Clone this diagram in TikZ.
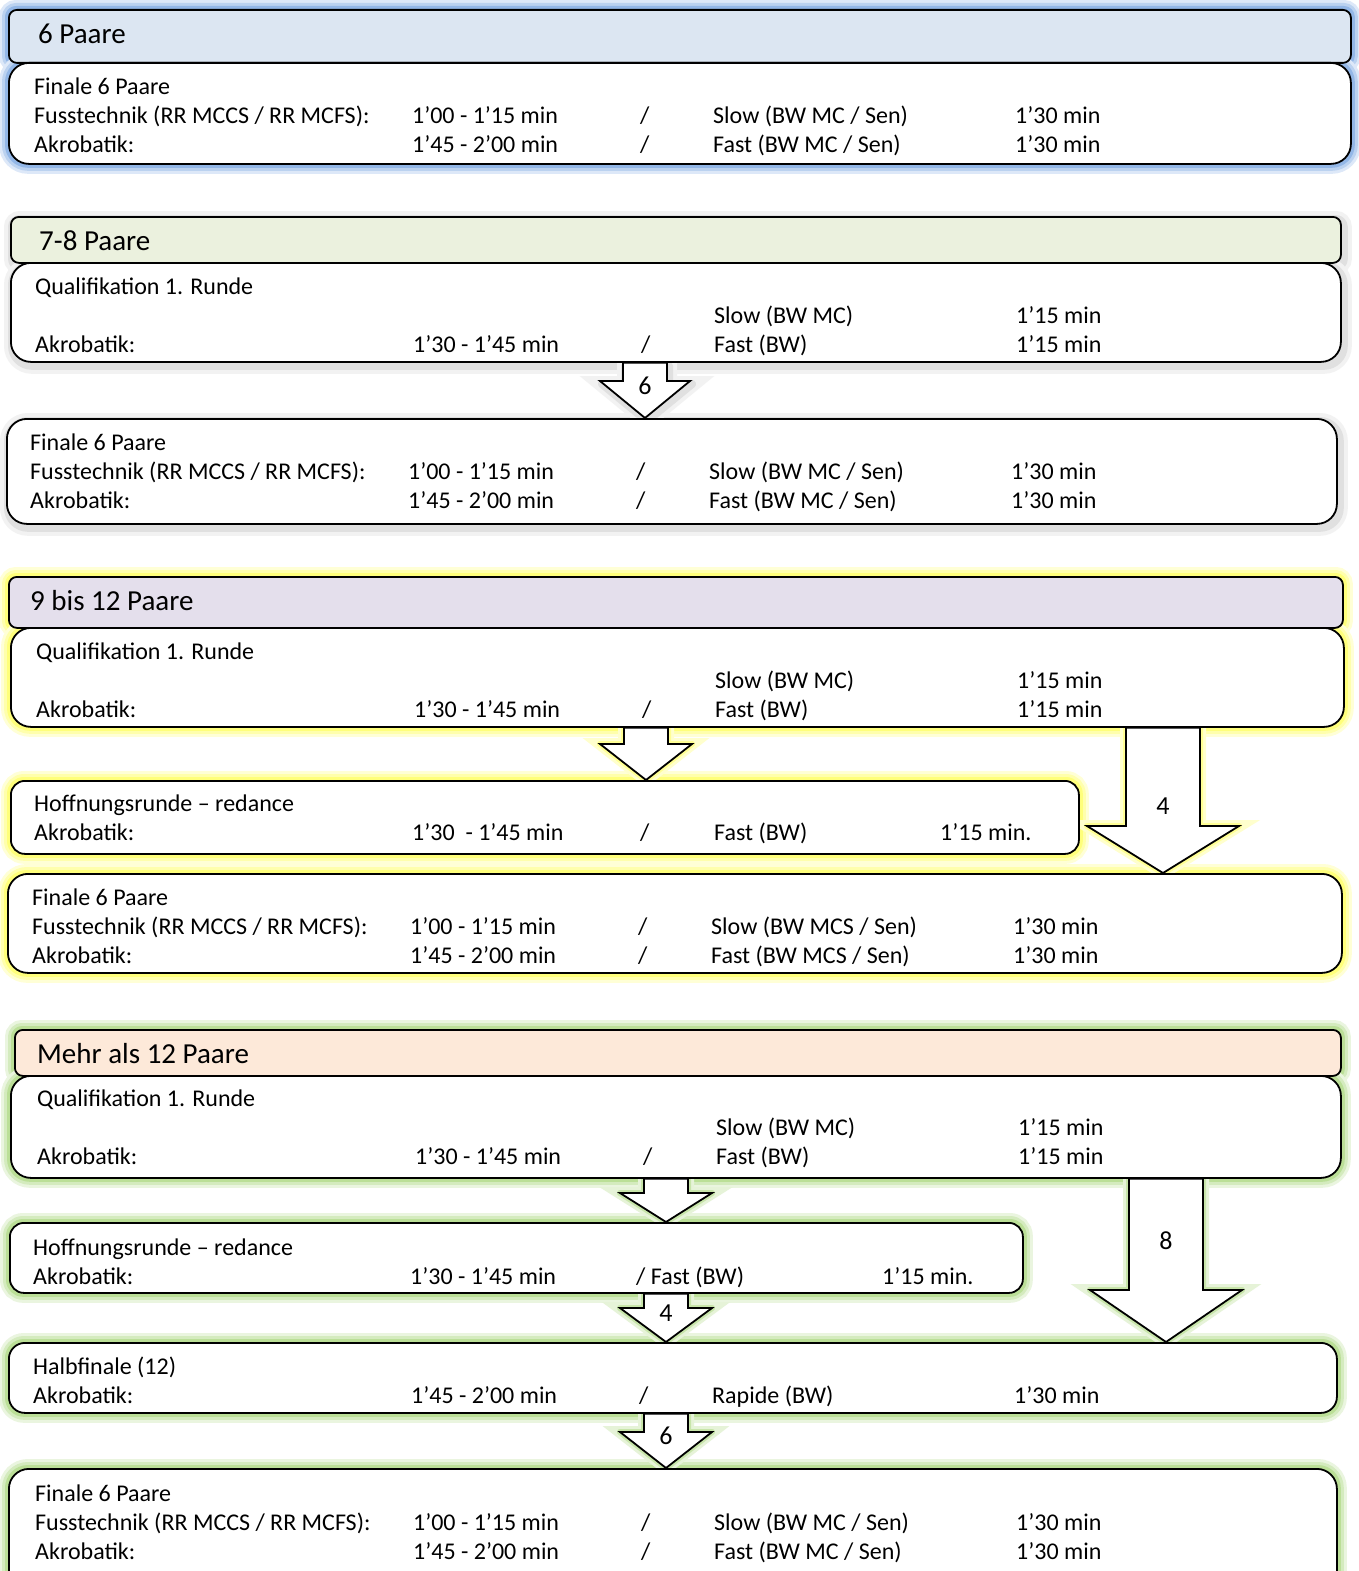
\documentclass[tikz,border=0pt]{standalone}
\usepackage{fontspec}
\setmainfont{Carlito}
\usetikzlibrary{positioning}
\usetikzlibrary{calc}

\pgfdeclarelayer{background}
\pgfsetlayers{background,main}

\definecolor{headblue}{RGB}{220,230,242}
\definecolor{headgreen}{RGB}{235,241,222}
\definecolor{headlila}{RGB}{228,223,236}
\definecolor{headpeach}{RGB}{253,233,217}
\definecolor{glowblue}{RGB}{120,165,225}
\definecolor{glowyellow}{RGB}{255,255,90}
\definecolor{glowgreen}{RGB}{170,215,125}

\newcommand{\tcell}[2]{\makebox[#1pt][l]{#2}}
\newcommand{\trow}[5]{\tcell{378}{#1}\tcell{228}{#2}\tcell{73}{#3}\tcell{302}{#4}#5}
\newcommand{\blockarrow}[5]{($(#1)+(-#3,0)$) -- ($(#2)+(-#3,-#5)$) -- ($(#2)+(-#4,-#5)$) -- (#2) -- ($(#2)+(#4,-#5)$) -- ($(#2)+(#3,-#5)$) -- ($(#1)+(#3,0)$) -- cycle}

\begin{document}
\begin{tikzpicture}[x=1pt, y=-1pt,
        head/.style={draw, line width=1.8pt, rounded corners=8pt, anchor=north west, inner sep=0pt},
        body/.style={draw, fill=white, line width=1.8pt, rounded corners=20pt, anchor=north west, inner sep=0pt},
        txt/.style={anchor=north west, inner sep=0pt, align=left, font=\fontsize{24}{29}\selectfont},
        htxt/.style={anchor=base west, inner sep=0pt, font=\fontsize{29}{35}\selectfont},
        lbl/.style={inner sep=0pt, font=\fontsize{26}{31}\selectfont},
        blockarr/.style={draw, fill=white, line width=1.8pt, line join=miter},
        glowline/.style={line join=round, preaction={draw=#1!25, line width=18pt}, preaction={draw=#1!50, line width=12pt}, draw=#1!80, line width=6pt},
        arrowglow/.style={line join=round, preaction={draw=#1!30, line width=12pt}, draw=#1!65, line width=6pt},
        greyshadow/.style={line join=round, preaction={draw=black!5, line width=16pt}, draw=black!12, line width=8pt}]

    \useasboundingbox (0,0) rectangle (1359,1571);

    % 6 Paare
    \node[head, fill=headblue, minimum width=1342pt, minimum height=53pt] (h1) at (8,9) {};
    \node[htxt] (h1t) at (38,44) {6 Paare};
    \node[body, minimum width=1342pt, minimum height=101pt] (b1) at (8,62) {};
    \node[txt] (b1t) at (34,73.7) {\strut Finale 6 Paare\\
        \trow{Fusstechnik (RR MCCS / RR MCFS):}{1’00 - 1’15 min}{/}{Slow (BW MC / Sen)}{1’30 min}\\
        \trow{Akrobatik:}{1’45 - 2’00 min}{/}{Fast (BW MC / Sen)}{1’30 min}};

    % 7-8 Paare
    \node[head, fill=headgreen, minimum width=1330pt, minimum height=46pt] (h2) at (10,216) {};
    \node[htxt] (h2t) at (39,250) {7-8 Paare};
    \node[body, minimum width=1330pt, minimum height=99pt] (q2) at (10,262) {};
    \node[txt] (q2t) at (35,273.7) {\strut Qualifikation 1. Runde\\
        \trow{}{}{}{Slow (BW MC)}{1’15 min}\\
        \trow{Akrobatik:}{1’30 - 1’45 min}{/}{Fast (BW)}{1’15 min}};
    \node[body, minimum width=1330pt, minimum height=105pt] (f2) at (6,418) {};
    \node[txt] (f2t) at (30,429.7) {\strut Finale 6 Paare\\
        \trow{Fusstechnik (RR MCCS / RR MCFS):}{1’00 - 1’15 min}{/}{Slow (BW MC / Sen)}{1’30 min}\\
        \trow{Akrobatik:}{1’45 - 2’00 min}{/}{Fast (BW MC / Sen)}{1’30 min}};

    % 9 bis 12 Paare
    \node[head, fill=headlila, minimum width=1334pt, minimum height=51pt] (h3) at (8,576) {};
    \node[htxt] (h3t) at (30,610) {9 bis 12 Paare};
    \node[body, minimum width=1333pt, minimum height=99pt] (q3) at (10,627) {};
    \node[txt] (q3t) at (36,638.7) {\strut Qualifikation 1. Runde\\
        \trow{}{}{}{Slow (BW MC)}{1’15 min}\\
        \trow{Akrobatik:}{1’30 - 1’45 min}{/}{Fast (BW)}{1’15 min}};
    \node[body, rounded corners=14pt, minimum width=1068pt, minimum height=73pt] (o3) at (10,780) {};
    \node[txt] (o3t) at (34,790.7) {\strut Hoffnungsrunde – redance\\
        \tcell{378}{Akrobatik:}\tcell{228}{1’30~ - 1’45 min}\tcell{74}{/}\tcell{226}{Fast (BW)}1’15 min.};
    \node[body, minimum width=1334pt, minimum height=99pt] (f3) at (7,873) {};
    \node[txt] (f3t) at (32,884.7) {\strut Finale 6 Paare\\
        \trow{Fusstechnik (RR MCCS / RR MCFS):}{1’00 - 1’15 min}{/}{Slow (BW MCS / Sen)}{1’30 min}\\
        \trow{Akrobatik:}{1’45 - 2’00 min}{/}{Fast (BW MCS / Sen)}{1’30 min}};

    % Mehr als 12 Paare
    \node[head, fill=headpeach, minimum width=1326pt, minimum height=46pt] (h4) at (14,1029) {};
    \node[htxt] (h4t) at (37,1063) {Mehr als 12 Paare};
    \node[body, minimum width=1330pt, minimum height=102pt] (q4) at (10,1075) {};
    \node[txt] (q4t) at (37,1085.7) {\strut Qualifikation 1. Runde\\
        \trow{}{}{}{Slow (BW MC)}{1’15 min}\\
        \trow{Akrobatik:}{1’30 - 1’45 min}{/}{Fast (BW)}{1’15 min}};
    \node[body, rounded corners=14pt, minimum width=1013pt, minimum height=70pt] (o4) at (9,1222) {};
    \node[txt] (o4t) at (33,1234.7) {\strut Hoffnungsrunde – redance\\
        \tcell{377}{Akrobatik:}\tcell{226}{1’30 - 1’45 min}\tcell{246}{/ Fast (BW)}1’15 min.};
    \node[body, rounded corners=16pt, minimum width=1328pt, minimum height=70pt] (l4) at (8,1342) {};
    \node[txt] (l4t) at (33,1353.7) {\strut Halbfinale (12)\\
        \trow{Akrobatik:}{1’45 - 2’00 min}{/}{Rapide (BW)}{1’30 min}};
    \node[body, minimum width=1328pt, minimum height=130pt] (f4) at (8,1468) {};
    \node[txt] (f4t) at (35,1480.7) {\strut Finale 6 Paare\\
        \trow{Fusstechnik (RR MCCS / RR MCFS):}{1’00 - 1’15 min}{/}{Slow (BW MC / Sen)}{1’30 min}\\
        \trow{Akrobatik:}{1’45 - 2’00 min}{/}{Fast (BW MC / Sen)}{1’30 min}};

    % arrows
    \coordinate (a2t) at ($(q2.south west)+(635,0)$);
    \coordinate (a2b) at (a2t |- f2.north);
    \coordinate (a3t) at ($(q3.south west)+(636,0)$);
    \coordinate (a3b) at (a3t |- o3.north);
    \coordinate (a3ct) at ($(q3.south west)+(1153,0)$);
    \coordinate (a3cb) at (a3ct |- f3.north);
    \coordinate (a4t) at ($(q4.south west)+(656,0)$);
    \coordinate (a4b) at (a4t |- o4.north);
    \coordinate (a4ct) at ($(q4.south west)+(1156,0)$);
    \coordinate (a4cb) at (a4ct |- l4.north);
    \coordinate (a4dt) at ($(o4.south west)+(657,0)$);
    \coordinate (a4db) at (a4dt |- l4.north);
    \coordinate (a4et) at ($(l4.south west)+(658,0)$);
    \coordinate (a4eb) at (a4et |- f4.north);

    \draw[blockarr] \blockarrow{a2t}{a2b}{22}{45}{37};
    \draw[blockarr] \blockarrow{a3t}{a3b}{22}{46}{36};
    \draw[blockarr] \blockarrow{a3ct}{a3cb}{37}{76}{47};
    \draw[blockarr] \blockarrow{a4t}{a4b}{22}{46}{29};
    \draw[blockarr] \blockarrow{a4ct}{a4cb}{37}{76}{52};
    \draw[blockarr] \blockarrow{a4dt}{a4db}{22}{46}{34};
    \draw[blockarr] \blockarrow{a4et}{a4eb}{22}{46}{36};

    \node[lbl] (a2l) at ($(a2t)!0.41!(a2b)$) {6};
    \node[lbl] (a3cl) at ($(a3ct)!0.54!(a3cb)$) {4};
    \node[lbl] (a4cl) at ($(a4ct)!0.38!(a4cb)$) {8};
    \node[lbl] (a4dl) at ($(a4dt)!0.4!(a4db)$) {4};
    \node[lbl] (a4el) at ($(a4et)!0.4!(a4eb)$) {6};

    % glow
    \begin{pgfonlayer}{background}
        \fill[white] (0,0) rectangle (1359,1571);
        \foreach \n/\r in {h1/8, b1/20}
            \draw[glowline=glowblue, rounded corners=\r pt] (\n.north west) rectangle (\n.south east);
        \begin{scope}[transform canvas={xshift=2pt, yshift=-3pt}]
            \foreach \n/\r in {h2/8, q2/20, f2/20}
                \draw[greyshadow, rounded corners=\r pt] (\n.north west) rectangle (\n.south east);
            \draw[greyshadow] \blockarrow{a2t}{a2b}{22}{45}{37};
        \end{scope}
        \foreach \n/\r in {h3/8, q3/20, o3/14, f3/20}
            \draw[glowline=glowyellow, rounded corners=\r pt] (\n.north west) rectangle (\n.south east);
        \draw[arrowglow=glowyellow] \blockarrow{a3t}{a3b}{22}{46}{36};
        \draw[arrowglow=glowyellow] \blockarrow{a3ct}{a3cb}{37}{76}{47};
        \foreach \n/\r in {h4/8, q4/20, o4/14, l4/16, f4/20}
            \draw[glowline=glowgreen, rounded corners=\r pt] (\n.north west) rectangle (\n.south east);
        \draw[arrowglow=glowgreen] \blockarrow{a4t}{a4b}{22}{46}{29};
        \draw[arrowglow=glowgreen] \blockarrow{a4ct}{a4cb}{37}{76}{52};
        \draw[arrowglow=glowgreen] \blockarrow{a4dt}{a4db}{22}{46}{34};
        \draw[arrowglow=glowgreen] \blockarrow{a4et}{a4eb}{22}{46}{36};
    \end{pgfonlayer}

\end{tikzpicture}
\end{document}
